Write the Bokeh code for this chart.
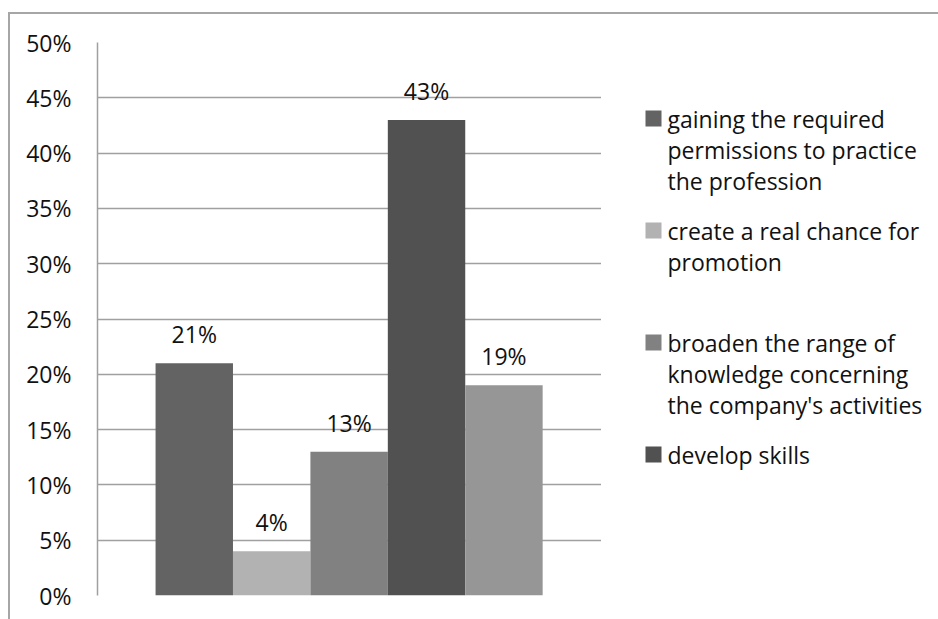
from bokeh.plotting import figure
from bokeh.layouts import row
from bokeh.models import ColumnDataSource, Range1d, FixedTicker, PrintfTickFormatter
from bokeh.core.properties import value
from bokeh.embed import file_html
from bokeh.resources import INLINE

# ---- data ----
categories = [
    ["gaining the required", "permissions to practice", "the profession"],
    ["create a real chance for", "promotion"],
    ["broaden the range of", "knowledge concerning", "the company's activities"],
    ["develop skills"],
    ["other"],
]
percent_values = [21, 4, 13, 43, 19]
bar_colors = ["#636363", "#b2b2b2", "#818181", "#515151", "#969696"]
y_ticks = [0, 5, 10, 15, 20, 25, 30, 35, 40, 45, 50]
legend_count = 4

FONT = value("Open Sans")
FS = "23px"
TXT = "#111111"
GRID = "#a0a0a0"

positions = [i + 0.5 for i in range(len(percent_values))]
source = ColumnDataSource(dict(
    x=positions,
    top=percent_values,
    color=bar_colors,
    label=[f"{v}%" for v in percent_values],
))

H = 605
BT, BB = 28, 24
p = figure(
    width=591, height=H,
    x_range=Range1d(-0.75, len(percent_values) + 0.76),
    y_range=Range1d(0, 50),
    output_backend="svg", toolbar_location=None,
    min_border_left=87, min_border_top=BT, min_border_bottom=BB, min_border_right=0,
)
p.outline_line_color = None
p.xaxis.visible = False
p.xgrid.visible = False

p.yaxis.ticker = FixedTicker(ticks=y_ticks)
p.yaxis.formatter = PrintfTickFormatter(format="%d%%")
p.yaxis.major_tick_line_color = None
p.yaxis.minor_tick_line_color = None
p.yaxis.axis_line_color = GRID
p.yaxis.axis_line_width = 1.5
p.yaxis.major_label_standoff = 20
p.yaxis.major_label_text_font = "Open Sans"
p.yaxis.major_label_text_font_size = FS
p.yaxis.major_label_text_color = TXT

p.ygrid.ticker = FixedTicker(ticks=y_ticks)
p.ygrid.grid_line_color = GRID
p.ygrid.grid_line_width = 1.5

p.vbar(x="x", top="top", width=1.0, fill_color="color", line_color=None, source=source)

p.text(x="x", y="top", text="label", source=source,
       text_align="center", text_baseline="middle", y_offset=-29,
       text_font=FONT, text_font_size=FS, text_color=TXT)

# ---- legend panel (separate figure, frame aligned with the chart frame) ----
# its y coordinates are page pixels from 42 (top of frame) to 595 (bottom of frame)
LW = 337
leg = figure(width=LW, height=H, x_range=Range1d(0, LW), y_range=Range1d(595, 42),
             output_backend="svg", toolbar_location=None,
             min_border_left=0, min_border_right=0, min_border_top=BT, min_border_bottom=BB)
leg.axis.visible = False
leg.grid.visible = False
leg.outline_line_color = None

item_top = 118.0
item_pitch = 112.0
line_pitch = 31.0
sq_x = 52
txt_x = 66

sq = dict(x=[], y=[], color=[])
tx = dict(x=[], y=[], text=[])
for i in range(legend_count):
    yc = item_top + i * item_pitch
    sq["x"].append(sq_x)
    sq["y"].append(yc)
    sq["color"].append(bar_colors[i])
    for j, line in enumerate(categories[i]):
        tx["x"].append(txt_x)
        tx["y"].append(yc + j * line_pitch)
        tx["text"].append(line)

leg.rect(x="x", y="y", width=16, height=16, fill_color="color", line_color=None,
         source=ColumnDataSource(sq))
leg.text(x="x", y="y", text="text", source=ColumnDataSource(tx),
         text_align="left", text_baseline="middle",
         text_font=FONT, text_font_size=FS, text_color=TXT)

layout = row(p, leg, spacing=0)
layout.margin = (12, 0, 0, 8)
layout.styles = {"border-left": "2px solid #a6a6a6", "border-top": "2px solid #a6a6a6"}

open("out.html", "w").write(file_html(layout, INLINE))
